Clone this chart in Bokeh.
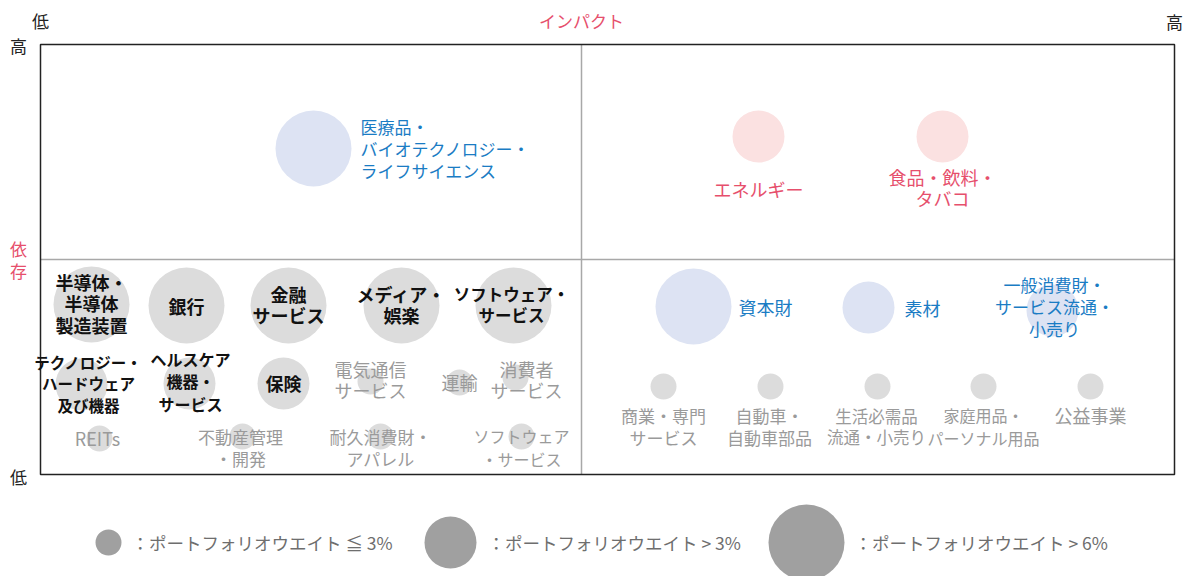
from bokeh.plotting import figure
from bokeh.models import Range1d, ColumnDataSource
from bokeh.core.properties import value
from bokeh.embed import file_html
from bokeh.resources import INLINE

FONT = "Noto Sans CJK JP"

# ---- data (positions, in page pixels) ----
sectors = ["医療品・\nバイオテクノロジー・\nライフサイエンス", "エネルギー", "食品・飲料・\nタバコ",
           "資本財", "素材", "一般消費財・\nサービス流通・\n小売り",
           "半導体・\n半導体\n製造装置", "銀行", "金融\nサービス", "メディア・\n娯楽", "ソフトウェア・\nサービス",
           "テクノロジー・\nハードウェア\n及び機器", "ヘルスケア\n機器・\nサービス", "保険",
           "電気通信\nサービス", "運輸", "消費者\nサービス",
           "REITs", "不動産管理\n・開発", "耐久消費財・\nアパレル", "ソフトウェア\n・サービス",
           "商業・専門\nサービス", "自動車・\n自動車部品", "生活必需品\n流通・小売り", "家庭用品・\nパーソナル用品", "公益事業"]
impact_x = [313, 758, 942, 693, 868, 1052,
            91, 186, 288, 401, 513,
            81, 189, 283, 370, 459, 515,
            99, 242, 380, 521,
            663, 770, 877, 983, 1090]
dependency_y = [148, 136, 136, 306, 307, 310,
                304, 305, 305, 305, 305,
                384, 383, 383, 381, 382, 377,
                438, 436, 436, 436,
                386, 386, 386, 386, 386]
weight = ["large", "medium", "medium", "large", "medium", "medium",
          "large", "large", "large", "large", "large",
          "medium", "medium", "medium", "small", "small", "small",
          "small", "small", "small", "small",
          "small", "small", "small", "small", "small"]
group = ["blue", "red", "red", "blue", "blue", "blue",
         "dark", "dark", "dark", "dark", "dark",
         "dark", "dark", "dark", "gray", "gray", "gray",
         "gray", "gray", "gray", "gray",
         "gray", "gray", "gray", "gray", "gray"]

legend_labels = ["：ポートフォリオウエイト ≦ 3%", "：ポートフォリオウエイト > 3%", "：ポートフォリオウエイト > 6%"]
legend_classes = ["small", "medium", "large"]

# ---- layout / style ----
label_x = [360, 758, 942, 738, 904, 1054,
           91, 186, 288, 401, 511,
           88, 190, 283, 370, 459, 526,
           97, 240, 380, 521,
           663, 769, 876, 983, 1090]
label_y = [148, 188, 187, 306, 307, 306,
           303, 305, 304, 304, 304,
           383, 381, 382, 379, 381, 379,
           437, 447, 447, 447,
           426, 426, 426, 426, 414]
label_align = ["left", "center", "center", "left", "left", "center"] + ["center"] * 20
label_size = [17, 18, 18, 18, 18, 17,
              18, 18, 18, 18, 16.5,
              15.5, 16, 18, 18, 18, 18,
              18, 17, 17, 16,
              17, 17, 16.5, 16, 18]

size_px = {"small": 26, "medium": 52, "large": 76}
fill = {"blue": "#dde3f3", "red": "#fbe1e1", "dark": "#dcdcdc", "gray": "#dcdcdc"}
text_col = {"blue": "#1a7cc4", "red": "#e64f6c", "dark": "#111111", "gray": "#9a9a9a"}
text_style = {"blue": "normal", "red": "normal", "dark": "bold", "gray": "normal"}

LINE_PX = 22.5
METRIC = 1.517  # rendered line advance per unit of text_line_height, in em

W, H = 1184, 576
p = figure(width=W, height=H, x_range=Range1d(0, W), y_range=Range1d(H, 0),
           output_backend="svg", toolbar_location=None, min_border=0,
           x_axis_location=None, y_axis_location=None, outline_line_color=None)
p.xgrid.visible = False
p.ygrid.visible = False
p.background_fill_color = "white"

BOX_L, BOX_R, BOX_T, BOX_B = 40, 1174, 44, 474
MID_X, MID_Y = 581, 259

# dividers
p.segment(x0=[MID_X, BOX_L], y0=[BOX_T, MID_Y], x1=[MID_X, BOX_R], y1=[BOX_B, MID_Y],
          line_color="#a8a8a8", line_width=1.5)
# box
p.quad(left=[BOX_L], right=[BOX_R], top=[BOX_T], bottom=[BOX_B], fill_color=None,
       line_color="#222222", line_width=1.5)

# bubbles
src = ColumnDataSource(dict(x=impact_x, y=dependency_y,
                            size=[size_px[w] for w in weight],
                            fill=[fill[g] for g in group]))
p.scatter("x", "y", size="size", fill_color="fill", line_color=None, source=src)

# labels
for i in range(len(sectors)):
    g = group[i]
    fs = label_size[i]
    p.text(x=[label_x[i]], y=[label_y[i]], text=[sectors[i]], text_font=value(FONT),
           text_font_size=f"{fs}px", text_color=text_col[g], text_font_style=text_style[g],
           text_align=label_align[i], text_baseline="middle",
           text_line_height=LINE_PX / (METRIC * fs))

# axis words
p.text(x=[40, 1174], y=[20, 21], text=["低", "高"], text_font=value(FONT), text_font_size="17px",
       text_color="#222222", text_align="center", text_baseline="middle")
p.text(x=[18, 18], y=[45, 476], text=["高", "低"], text_font=value(FONT), text_font_size="17px",
       text_color="#222222", text_align="center", text_baseline="middle")
p.text(x=[581], y=[20], text=["インパクト"], text_font=value(FONT), text_font_size="17px",
       text_color="#e64f6c", text_align="center", text_baseline="middle")
p.text(x=[18], y=[259], text=["依\n存"], text_font=value(FONT), text_font_size="17px",
       text_color="#e64f6c", text_align="center", text_baseline="middle",
       text_line_height=22 / (METRIC * 17))

# legend
leg_x = [108, 450, 806]
leg_tx = [131, 487, 854]
p.scatter(x=leg_x, y=[542] * 3, size=[size_px[c] for c in legend_classes],
          fill_color="#a0a0a0", line_color=None)
p.text(x=leg_tx, y=[542] * 3, text=legend_labels, text_font=value(FONT), text_font_size="17.5px",
       text_color="#6e6e6e", text_align="left", text_baseline="middle")

open("out.html", "w").write(file_html(p, INLINE))
